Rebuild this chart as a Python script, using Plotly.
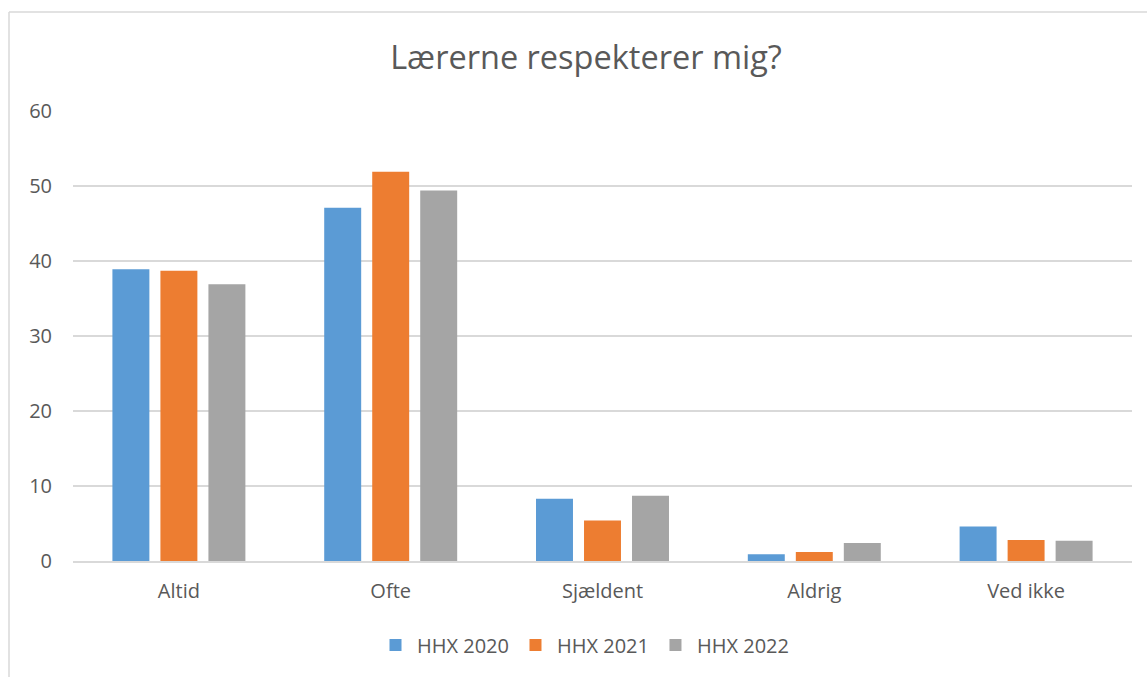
import plotly.graph_objects as go

categories = ["Altid", "Ofte", "Sjældent", "Aldrig", "Ved ikke"]
hhx_2020 = [38.9, 47.1, 8.3, 0.9, 4.6]
hhx_2021 = [38.7, 51.9, 5.4, 1.2, 2.8]
hhx_2022 = [36.9, 49.4, 8.7, 2.4, 2.7]
y_ticks = [0, 10, 20, 30, 40, 50, 60]

W, H = 1147, 677
ML, MR, MT, MB = 73, 15, 111, 116
pw, ph = W - ML - MR, H - MT - MB

series = [
    ("HHX 2020", hhx_2020, "#5b9bd5"),
    ("HHX 2021", hhx_2021, "#ed7d31"),
    ("HHX 2022", hhx_2022, "#a5a5a5"),
]

fig = go.Figure()
for name, vals, col in series:
    fig.add_trace(go.Bar(
        x=categories, y=vals, name=name,
        marker=dict(color=col, line=dict(width=0)),
    ))

font_family = "'Open Sans', sans-serif"

# outer chart frame (top and left edges)
def px_x(p):
    return (p - ML) / pw

def px_y(p):
    return (H - MB - p) / ph

fig.add_shape(type="line", xref="paper", yref="paper",
              x0=px_x(9), x1=px_x(W + 5), y0=px_y(12), y1=px_y(12),
              line=dict(color="#d9d9d9", width=1.5))
fig.add_shape(type="line", xref="paper", yref="paper",
              x0=px_x(9), x1=px_x(9), y0=px_y(12), y1=px_y(H + 5),
              line=dict(color="#d9d9d9", width=1.5))

fig.update_layout(
    width=W, height=H,
    margin=dict(l=ML, r=MR, t=MT, b=MB),
    paper_bgcolor="white", plot_bgcolor="white",
    barmode="group", bargap=0.32, bargroupgap=0.23,
    title=dict(text="Lærerne respekterer mig?", xref="container", x=586 / W,
               xanchor="center", y=1 - 58 / H, yanchor="middle",
               font=dict(family=font_family, size=32.5, color="#595959")),
    font=dict(family=font_family, color="#595959", size=20),
    xaxis=dict(showgrid=False, showline=True, linecolor="#d9d9d9", linewidth=1.5,
               ticks="", ticklabelstandoff=11,
               tickfont=dict(size=20, color="#595959")),
    yaxis=dict(range=[0, 60], tickvals=y_ticks, showgrid=True, gridcolor="#d9d9d9",
               gridwidth=1.5, zeroline=False, showline=False, ticks="",
               ticklabelstandoff=20, tickfont=dict(size=20, color="#595959")),
    legend=dict(orientation="h", x=px_x(584), xanchor="center", y=px_y(645), yanchor="middle",
                font=dict(size=20, color="#595959"), itemwidth=33,
                traceorder="normal"),
    showlegend=True,
)

fig.write_html("out.html")
